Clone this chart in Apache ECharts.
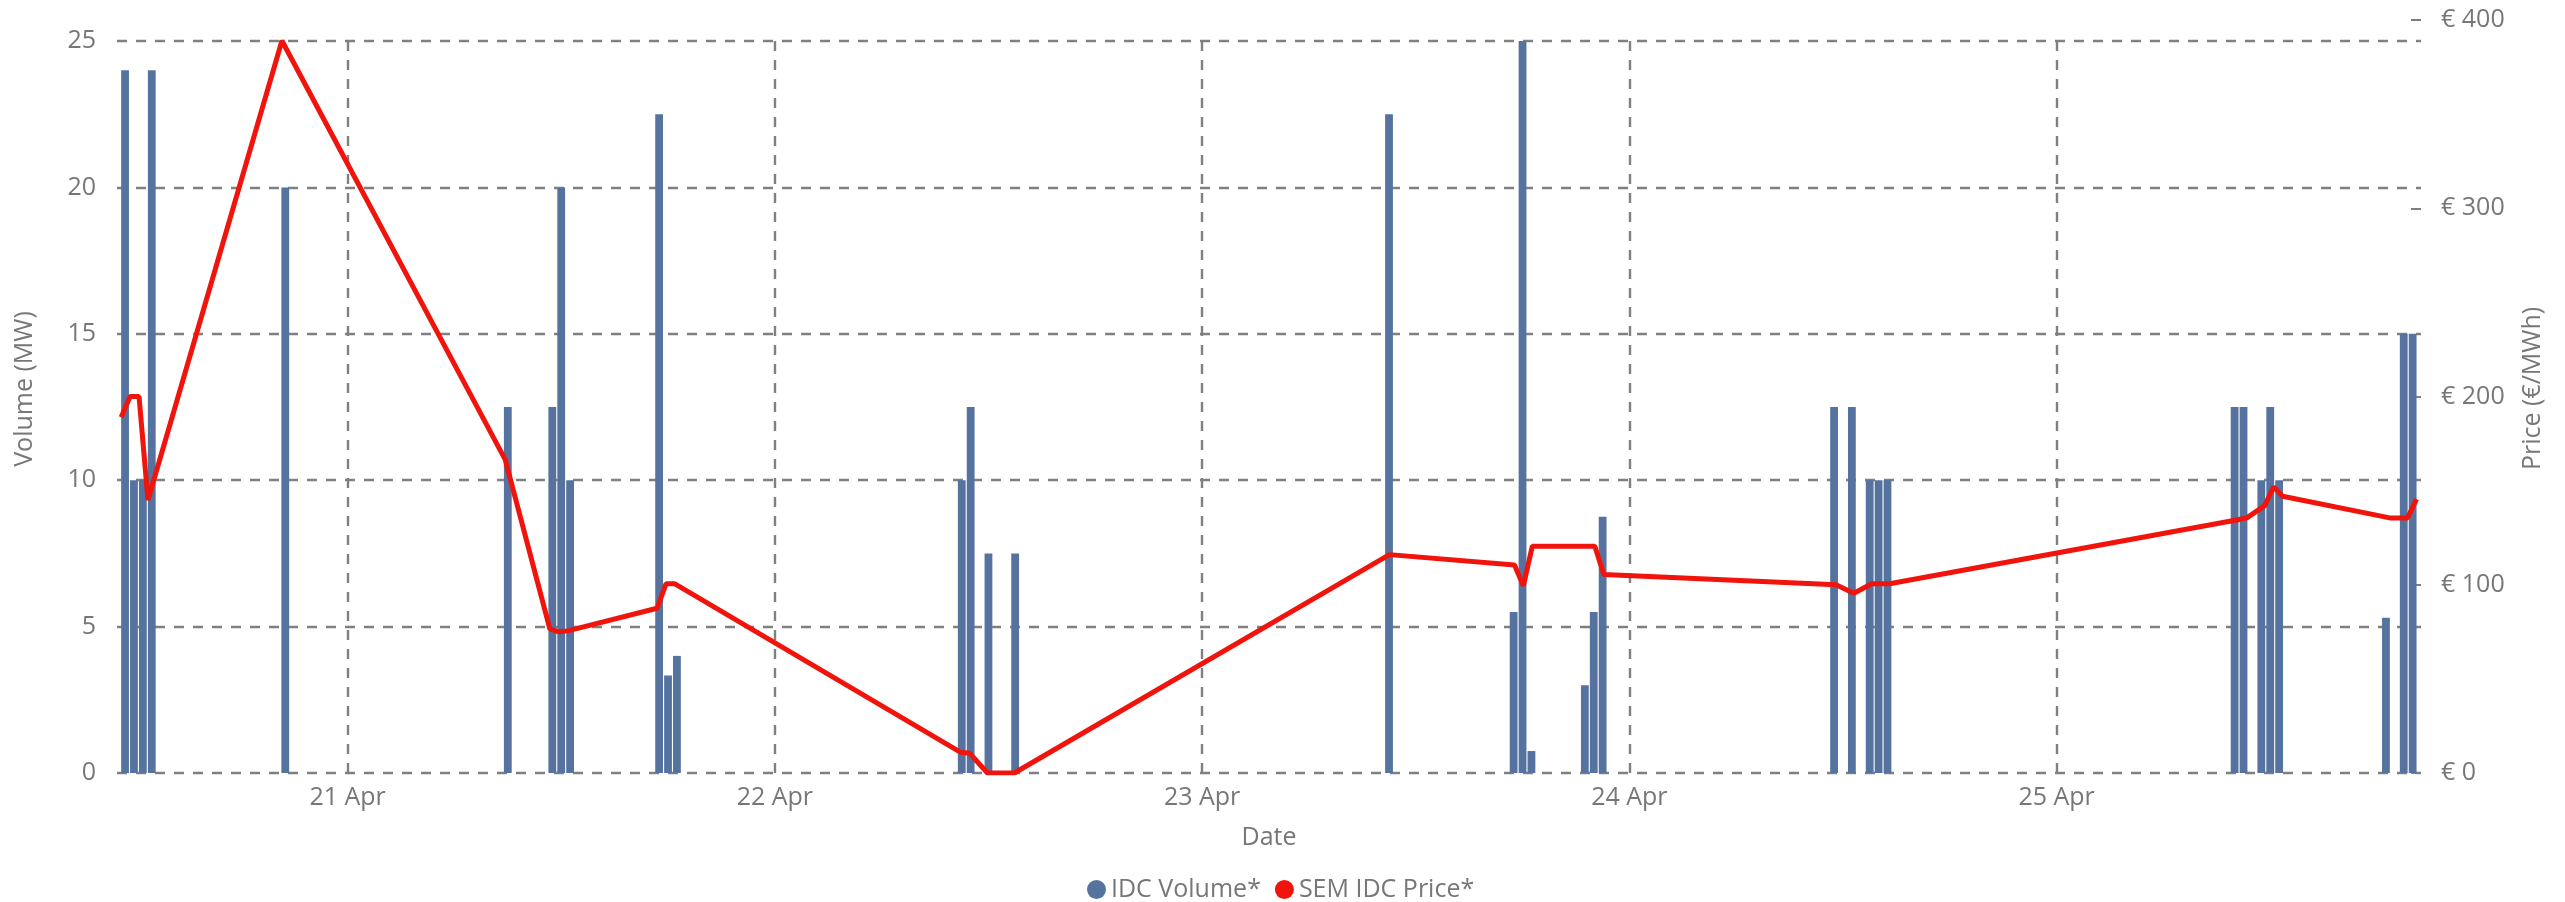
<!DOCTYPE html>
<html>
<head>
<meta charset="utf-8">
<script src="https://cdn.jsdelivr.net/npm/echarts@6/dist/echarts.min.js"></script>
<style>
html,body{margin:0;padding:0;background:#fff;}
#chart{width:2565px;height:902px;}
</style>
</head>
<body>
<div id="chart"></div>
<script>
// ---- data ----
var times = [
  '2024-04-20 11:30','2024-04-20 12:00','2024-04-20 12:30','2024-04-20 13:00','2024-04-20 20:30',
  '2024-04-21 09:00','2024-04-21 11:30','2024-04-21 12:00','2024-04-21 12:30','2024-04-21 17:30','2024-04-21 18:00','2024-04-21 18:30',
  '2024-04-22 10:30','2024-04-22 11:00','2024-04-22 12:00','2024-04-22 13:30',
  '2024-04-23 10:30','2024-04-23 17:30','2024-04-23 18:00','2024-04-23 18:30','2024-04-23 21:30','2024-04-23 22:00','2024-04-23 22:30',
  '2024-04-24 11:30','2024-04-24 12:30','2024-04-24 13:30','2024-04-24 14:00','2024-04-24 14:30',
  '2024-04-25 10:00','2024-04-25 10:30','2024-04-25 11:30','2024-04-25 12:00','2024-04-25 12:30','2024-04-25 18:30','2024-04-25 19:30','2024-04-25 20:00'
];
var volumes = [
  24, 10, 10, 24, 20,
  12.5, 12.5, 20, 10, 22.5, 3.33, 4,
  10, 12.5, 7.5, 7.5,
  22.5, 5.5, 25, 0.75, 3, 5.5, 8.75,
  12.5, 12.5, 10, 10, 10,
  12.5, 12.5, 10, 12.5, 10, 5.3, 15, 15
];
var prices = [
  189, 200, 200, 145, 389,
  166.5, 76.5, 75, 75.5, 87.5, 100.5, 100.5,
  11, 10.5, 0, 0,
  116, 110.5, 99.5, 120.5, 120.5, 120.5, 105.5,
  100, 95.5, 100.5, 100.5, 100.5,
  134.5, 135.5, 142, 152, 147, 135.5, 135.5, 145.5
];
var xMin = '2024-04-20 11:16';
var xMax = '2024-04-25 20:15';
var volumeTicks = [0, 25, 5];   // min, max, interval
var priceTicks = [0, 400, 100]; // min, max, interval
var seriesNames = ['IDC Volume*', 'SEM IDC Price*'];
var monthLabel = 'Apr';

// ---- chart ----
var FONT = 'Open Sans';
var TXT = '#777777';
var GRIDC = '#808080';
var DAY = 24 * 3600 * 1000;

var volData = times.map(function (t, i) { return [t, volumes[i]]; });
var priceData = times.map(function (t, i) { return [t, prices[i]]; });

var chart = echarts.init(document.getElementById('chart'));
chart.setOption({
  animation: false,
  backgroundColor: '#fff',
  textStyle: { fontFamily: FONT },
  grid: [
    { left: 117, right: 144, top: 41, bottom: 129 },
    { left: 117, right: 144, top: 20, bottom: 129 }
  ],
  legend: {
    data: seriesNames,
    icon: 'circle',
    itemWidth: 19,
    itemHeight: 19,
    itemGap: 14,
    left: 1082,
    top: 872,
    textStyle: { fontFamily: FONT, fontSize: 25, color: TXT }
  },
  xAxis: [
    {
      type: 'time',
      gridIndex: 0,
      min: xMin,
      max: xMax,
      minInterval: DAY,
      maxInterval: DAY,
      name: 'Date',
      nameLocation: 'middle',
      nameGap: 52,
      nameTextStyle: { fontFamily: FONT, fontSize: 25, color: TXT },
      axisLine: { show: false },
      axisTick: { show: false },
      axisLabel: {
        fontFamily: FONT, fontSize: 25, color: TXT, margin: 12,
        showMinLabel: false, showMaxLabel: false,
        formatter: function (v) { var d = new Date(v); return d.getDate() + ' ' + monthLabel; }
      },
      splitLine: {
        show: true, showMinLine: false, showMaxLine: false,
        lineStyle: { color: GRIDC, width: 2.4, type: [10, 9] }
      }
    },
    {
      type: 'time',
      gridIndex: 1,
      min: xMin,
      max: xMax,
      show: false
    }
  ],
  yAxis: [
    {
      type: 'value',
      gridIndex: 0,
      min: volumeTicks[0],
      max: volumeTicks[1],
      interval: volumeTicks[2],
      name: 'Volume (MW)',
      nameLocation: 'middle',
      nameRotate: 90,
      nameGap: 80,
      nameTextStyle: { fontFamily: FONT, fontSize: 25, color: TXT, padding: [0, 0, 0, 36] },
      axisLine: { show: false },
      axisTick: { show: false },
      axisLabel: { fontFamily: FONT, fontSize: 25, color: TXT, margin: 21 },
      splitLine: { show: true, lineStyle: { color: GRIDC, width: 2.4, type: [10, 9] } }
    },
    {
      type: 'value',
      gridIndex: 1,
      position: 'right',
      min: priceTicks[0],
      max: priceTicks[1],
      interval: priceTicks[2],
      name: 'Price (€/MWh)',
      nameLocation: 'middle',
      nameRotate: 90,
      nameGap: 99,
      nameTextStyle: { fontFamily: FONT, fontSize: 25, color: TXT, padding: [0, 0, 0, 16] },
      axisLine: { show: false },
      axisTick: { show: true, inside: true, length: 10, lineStyle: { color: GRIDC, width: 2 } },
      axisLabel: { fontFamily: FONT, fontSize: 25, color: TXT, margin: 20, formatter: '€ {value}' },
      splitLine: { show: false }
    }
  ],
  series: [
    {
      name: seriesNames[0],
      type: 'bar',
      xAxisIndex: 0,
      yAxisIndex: 0,
      barWidth: 7.8,
      itemStyle: { color: '#55739e' },
      data: volData
    },
    {
      name: seriesNames[1],
      type: 'line',
      xAxisIndex: 1,
      yAxisIndex: 1,
      showSymbol: false,
      symbol: 'circle',
      itemStyle: { color: '#f0140c' },
      lineStyle: { color: '#f0140c', width: 5 },
      data: priceData,
      z: 5
    }
  ]
});
</script>
</body>
</html>
